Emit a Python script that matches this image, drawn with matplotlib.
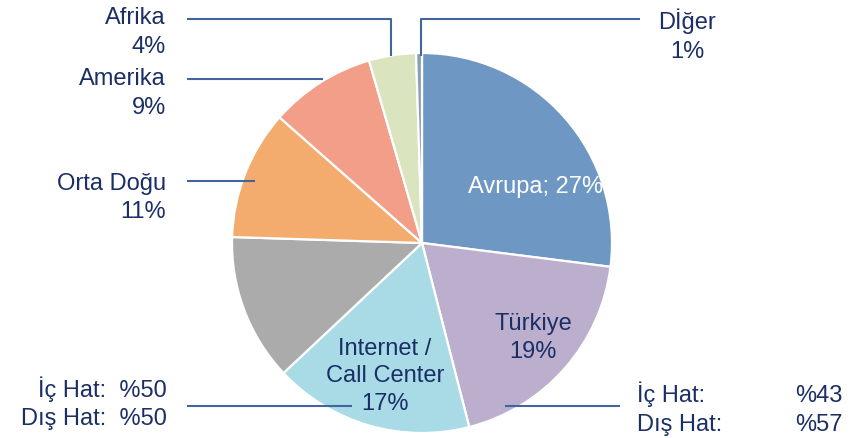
import matplotlib
matplotlib.use("Agg")
import matplotlib.pyplot as plt

plt.rcParams['font.family'] = ['Liberation Sans', 'DejaVu Sans']

# ---- data ----
regions = ["Avrupa", "Türkiye", "Internet /\nCall Center", "", "Orta Doğu", "Amerika", "Afrika", "Dİğer"]
shares = [27, 19, 17, 12.5, 11, 9, 4, 0.5]
share_labels = ["27%", "19%", "17%", "", "11%", "9%", "4%", "1%"]
colors = ["#6F97C4", "#BCAECD", "#A8DBE6", "#ABABAB", "#F3AC6E", "#F29E89", "#DAE4BF", "#87A0B2"]
left_split = ["İç Hat:  %50", "Dış Hat:  %50"]
right_split_names = ["İç Hat:", "Dış Hat:"]
right_split_values = ["%43", "%57"]

W, H = 860, 439
TXT = "#1B2F66"
LINE = "#41659C"
FS = 17

fig = plt.figure(figsize=(W / 100, H / 100), dpi=100)
ax = fig.add_axes([0, 0, 1, 1])

cx, cy, r = 422, 244, 190
ax.pie(shares, colors=colors, startangle=90, counterclock=False,
       center=(cx, H - cy), radius=r,
       wedgeprops=dict(edgecolor="white", linewidth=1.6))
ax.set_xlim(0, W)
ax.set_ylim(0, H)
ax.set_aspect('auto')
ax.axis('off')


def Y(py):
    return H - py


def line(xs, ys):
    ax.plot(xs, [Y(v) for v in ys], color=LINE, lw=1.5, solid_capstyle='butt', clip_on=False, zorder=5)


def txt(x, py, s, ha='center', color=TXT, size=FS):
    ax.text(x, Y(py), s, ha=ha, va='baseline', color=color, fontsize=size, zorder=6)


# leader lines
line([187, 391, 391], [20, 20, 57])          # Afrika
line([421, 421, 640], [57, 20, 20])          # Diğer
line([187, 323], [80, 80])                   # Amerika
line([187, 255], [182, 182])                 # Orta Doğu
line([187, 352], [407, 407])                 # Internet
line([505, 620], [407, 407])                 # Türkiye

# outside labels
txt(166, 24, regions[6], ha='right')
txt(166, 53, share_labels[6], ha='right')
txt(166, 85, regions[5], ha='right')
txt(166, 114, share_labels[5], ha='right')
txt(166, 190, regions[4], ha='right')
txt(166, 218, share_labels[4], ha='right')
txt(687, 29, regions[7])
txt(687, 58, share_labels[7])

# inside labels
txt(536, 193, f"{regions[0]}; {share_labels[0]}", color="white")
txt(533, 330, regions[1])
txt(533, 358, share_labels[1])
l1, l2 = regions[2].split("\n")
txt(385, 355, l1)
txt(385, 382, l2)
txt(385, 410, share_labels[2])

# channel splits
txt(167, 397, left_split[0], ha='right')
txt(167, 425, left_split[1], ha='right')
txt(637, 402, right_split_names[0], ha='left')
txt(637, 431, right_split_names[1], ha='left')
txt(843, 402, right_split_values[0], ha='right')
txt(843, 431, right_split_values[1], ha='right')

fig.savefig("out.png", dpi=100)
